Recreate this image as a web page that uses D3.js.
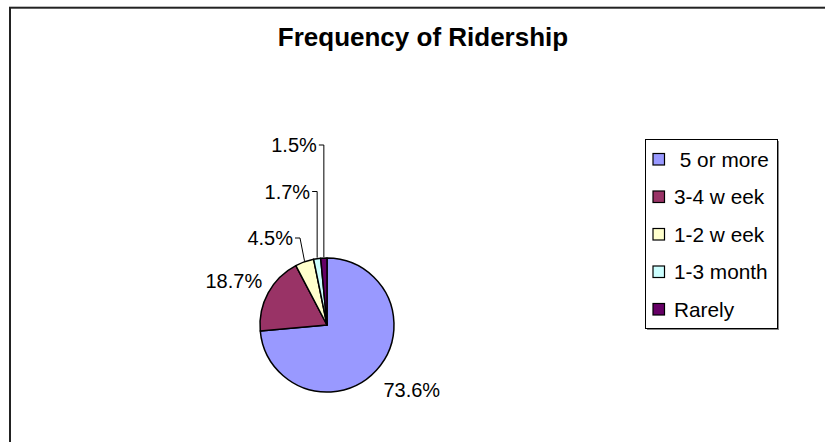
<!DOCTYPE html>
<html><head><meta charset="utf-8">
<script src="https://cdn.jsdelivr.net/npm/d3@7/dist/d3.min.js"></script>
<style>
html,body{margin:0;padding:0;background:#fff;}
text{font-family:"Liberation Sans",Arial,sans-serif;}
</style></head>
<body><svg id="c" width="825" height="442"></svg>
<script>
const categories = [" 5 or more", "3-4 w eek", "1-2 w eek", "1-3 month", "Rarely"];
const values = [73.6, 18.7, 4.5, 1.7, 1.5];
const valueLabels = ["73.6%", "18.7%", "4.5%", "1.7%", "1.5%"];
const colors = ["#9999FF", "#993366", "#FFFFCC", "#CCFFFF", "#660066"];
const title = "Frequency of Ridership";

const svg = d3.select("#c");
svg.append("rect").attr("width",825).attr("height",442).attr("fill","#fff");
// outer chart border (extends past right/bottom edge)
svg.append("rect").attr("x",10).attr("y",7.7).attr("width",900).attr("height",500)
  .attr("fill","none").attr("stroke","#222").attr("stroke-width",2);

svg.append("text").attr("x",423).attr("y",46).attr("text-anchor","middle")
  .attr("font-size",26).attr("font-weight","bold").attr("fill","#000").text(title);

const cx = 327, cy = 325, r = 67;
const pie = d3.pie().sort(null).value(d=>d)(values);
const arc = d3.arc().innerRadius(0).outerRadius(r);
const g = svg.append("g").attr("transform",`translate(${cx},${cy})`);
g.selectAll("path").data(pie).join("path")
  .attr("d",arc).attr("fill",(d,i)=>colors[i])
  .attr("stroke","#000").attr("stroke-width",1.5).attr("stroke-linejoin","round");

const outer = d3.arc().innerRadius(r).outerRadius(r);
const fs = 20;
pie.forEach((d,i)=>{
  const [ox,oy] = outer.centroid(d);
  const px = cx+ox, py = cy+oy;
  if (i===0){
    svg.append("text").attr("x",px+7).attr("y",py+27).attr("font-size",fs).text(valueLabels[i]);
  } else if (i===1){
    svg.append("text").attr("x",px-6).attr("y",py-5).attr("text-anchor","end").attr("font-size",fs).text(valueLabels[i]);
  } else {
    const ey = cy - r - 20 - (i-2)*46.5;
    const ex = i===2 ? px-4.5 : px;
    svg.append("path").attr("d",`M${px},${py-1}L${ex},${ey}L${ex-5},${ey}`)
      .attr("fill","none").attr("stroke","#000").attr("stroke-width",1);
    svg.append("text").attr("x",ex-7).attr("y",ey+7).attr("text-anchor","end").attr("font-size",fs).text(valueLabels[i]);
  }
});

// legend
const lx = 645.5, ly = 139.5, lw = 132, lh = 189;
svg.append("rect").attr("x",lx+1.5).attr("y",ly+1.5).attr("width",lw).attr("height",lh).attr("fill","#888");
svg.append("rect").attr("x",lx).attr("y",ly).attr("width",lw).attr("height",lh)
  .attr("fill","#fff").attr("stroke","#000").attr("stroke-width",1);
const ly0 = 159.5, step = 37.5;
categories.forEach((c,i)=>{
  const y = ly0 + i*step;
  svg.append("rect").attr("x",653).attr("y",y-6).attr("width",11.5).attr("height",11.5)
    .attr("fill",colors[i]).attr("stroke","#000").attr("stroke-width",1.2);
  svg.append("text").attr("x",674).attr("y",y+7).attr("font-size",20.8)
    .attr("xml:space","preserve").style("white-space","pre").text(c);
});
</script></body></html>
